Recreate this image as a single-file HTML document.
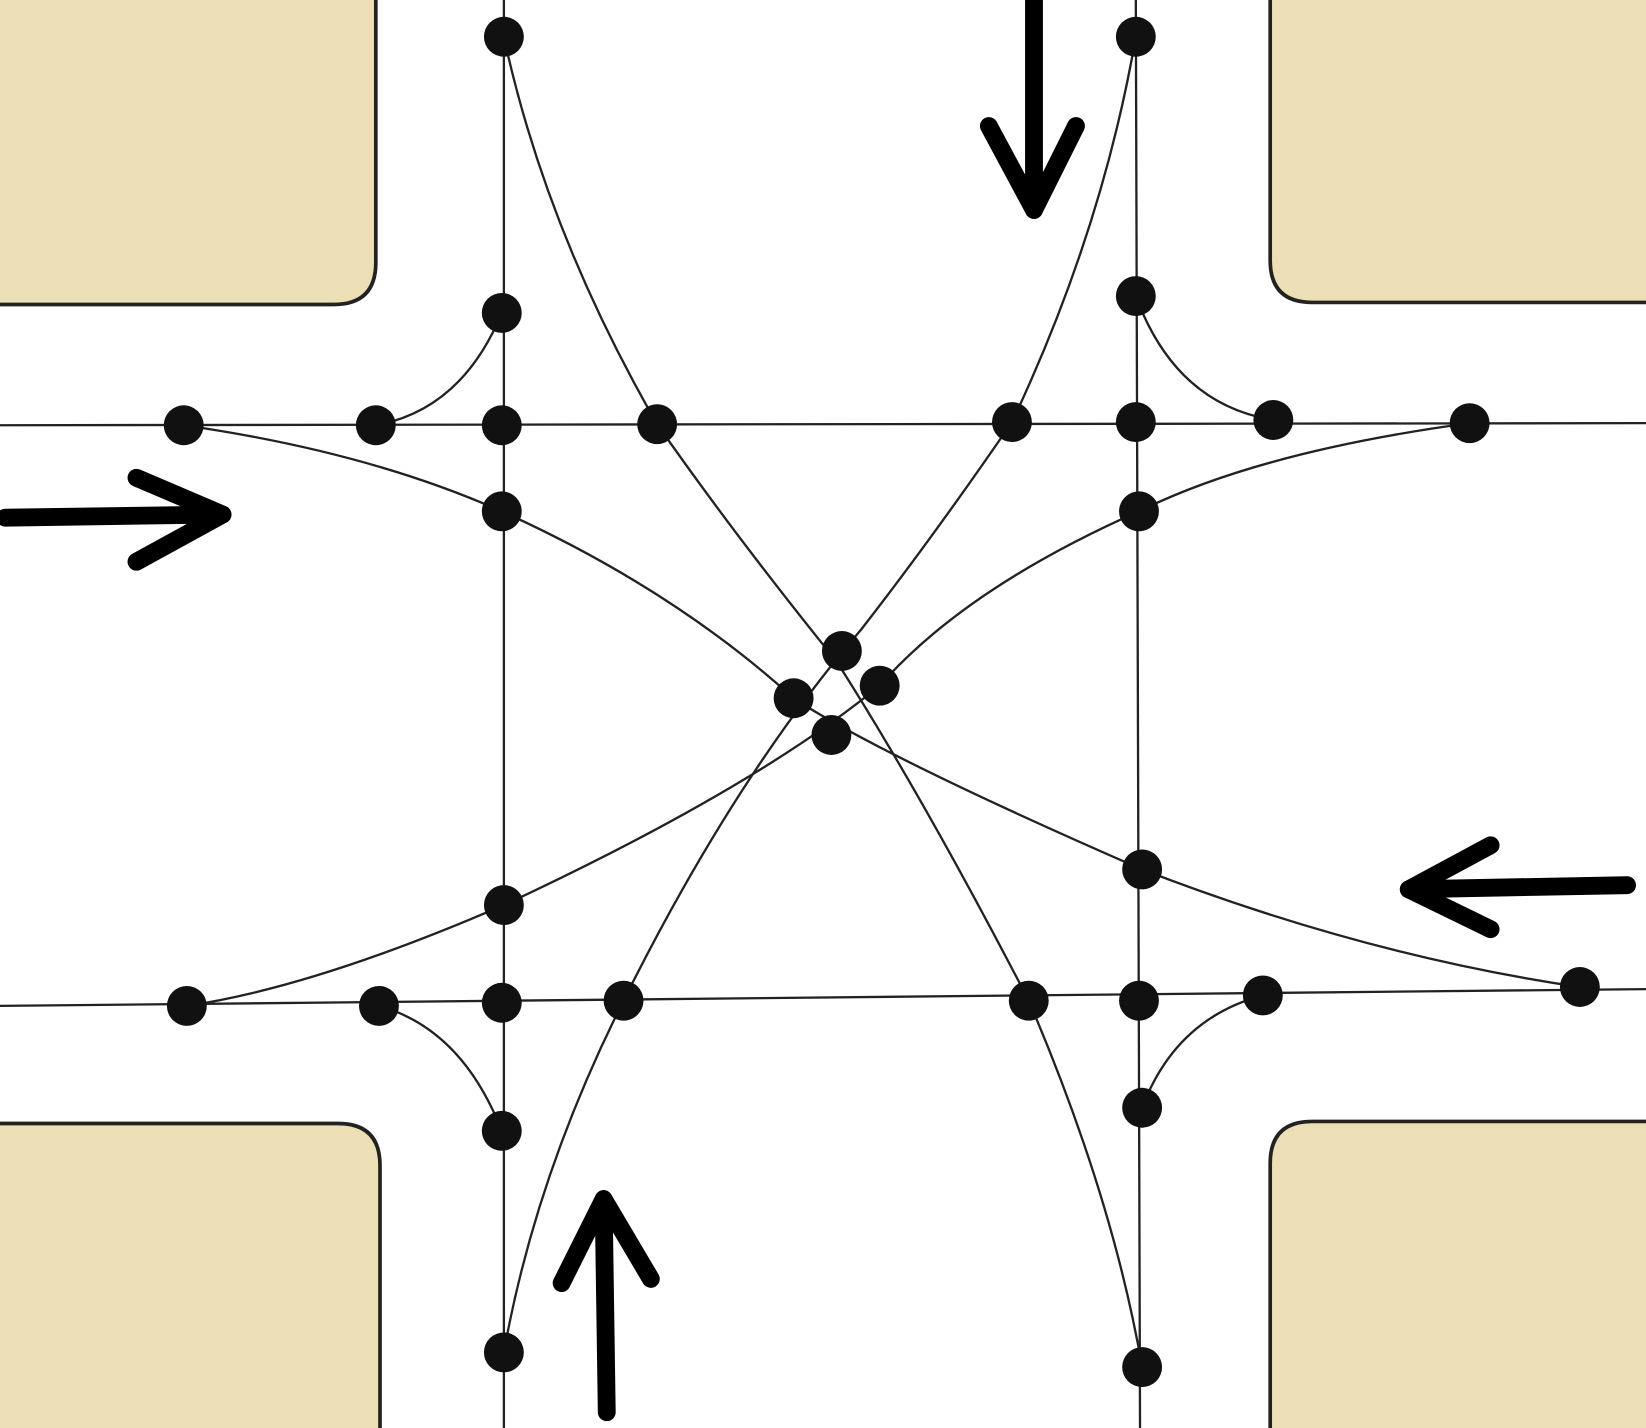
<!DOCTYPE html>
<html><head><style>html,body{margin:0;padding:0;background:#fff}svg{display:block}</style></head>
<body>
<svg width="1646" height="1428" viewBox="0 0 1568 1360" preserveAspectRatio="none" xmlns="http://www.w3.org/2000/svg">
<rect width="1568" height="1360" fill="#fff"/>
<g fill="#ECDFB5" stroke="#222" stroke-width="3.5">
<path d="M-5,-5 H358 V250 Q358,290 318,290 H-5 Z"/>
<path d="M1573,-5 H1210 V248 Q1210,288 1250,288 H1573 Z"/>
<path d="M-5,1365 H362 V1110 Q362,1070 322,1070 H-5 Z"/>
<path d="M1573,1365 H1210 V1108 Q1210,1068 1250,1068 H1573 Z"/>
</g>
<g fill="none" stroke="#222" stroke-width="2.2">
<line x1="480" y1="0" x2="480" y2="1360"/>
<line x1="1082" y1="0" x2="1086" y2="1360"/>
<line x1="0" y1="405" x2="1568" y2="403"/>
<line x1="0" y1="958" x2="1568" y2="942"/>
<path d="M480,35 Q520,220 626,404 Q700,510 797,630 Q880,760 980,953 Q1060,1140 1088,1302"/>
<path d="M1082,35 Q1050,220 964,402 Q890,510 820,600 Q700,740 594,953 Q510,1120 480,1288"/>
<path d="M175,405 Q350,430 478,487 Q640,560 756,665 Q840,720 1088,828 Q1300,910 1505,940"/>
<path d="M1400,403 Q1200,430 1085,487 Q920,560 838,653 Q720,750 480,862 Q300,940 178,958"/>
<path d="M478,298 Q440,390 358,405"/>
<path d="M1082,282 Q1120,385 1213,400"/>
<path d="M361,958 Q440,980 478,1077"/>
<path d="M1203,948 Q1120,970 1088,1055"/>
</g>
<g fill="#111">
<circle cx="480" cy="35" r="19"/><circle cx="1082" cy="35" r="19"/>
<circle cx="478" cy="298" r="19"/><circle cx="1082" cy="282" r="19"/>
<circle cx="175" cy="405" r="19"/><circle cx="358" cy="405" r="19"/>
<circle cx="478" cy="405" r="19"/><circle cx="626" cy="404" r="19"/>
<circle cx="964" cy="402" r="19"/><circle cx="1082" cy="402" r="19"/>
<circle cx="1213" cy="400" r="19"/><circle cx="1400" cy="403" r="19"/>
<circle cx="478" cy="487" r="19"/><circle cx="1085" cy="487" r="19"/>
<circle cx="802" cy="620" r="19"/><circle cx="756" cy="665" r="19"/>
<circle cx="838" cy="653" r="19"/><circle cx="792" cy="700" r="19"/>
<circle cx="480" cy="862" r="19"/><circle cx="1088" cy="828" r="19"/>
<circle cx="178" cy="958" r="19"/><circle cx="361" cy="958" r="19"/>
<circle cx="478" cy="955" r="19"/><circle cx="594" cy="953" r="19"/>
<circle cx="980" cy="953" r="19"/><circle cx="1085" cy="953" r="19"/>
<circle cx="1203" cy="948" r="19"/><circle cx="1505" cy="940" r="19"/>
<circle cx="478" cy="1077" r="19"/><circle cx="1088" cy="1055" r="19"/>
<circle cx="480" cy="1288" r="19"/><circle cx="1088" cy="1302" r="19"/>
</g>
<g fill="none" stroke="#000" stroke-width="17" stroke-linecap="round" stroke-linejoin="round">
<line x1="985" y1="0" x2="985" y2="200"/>
<polyline points="942,120 985,200 1025,120"/>
<line x1="5" y1="493" x2="212" y2="490"/>
<polyline points="130,455 212,490 130,535"/>
<line x1="1550" y1="843" x2="1342" y2="847"/>
<polyline points="1420,805 1342,847 1420,885"/>
<line x1="578" y1="1345" x2="575" y2="1142"/>
<polyline points="535,1222 575,1142 620,1218"/>
</g>
</svg>
</body></html>
